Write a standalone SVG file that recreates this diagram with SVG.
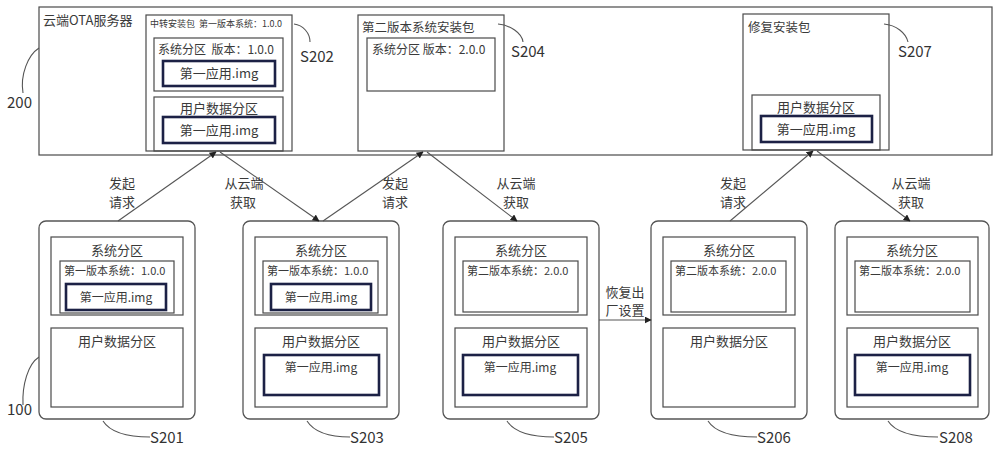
<svg xmlns="http://www.w3.org/2000/svg" width="1000" height="449" viewBox="0 0 1000 449">
<style>
text{font-family:"Noto Sans CJK SC","Noto Sans",sans-serif;fill:#3a3a3a}
.box{fill:none;stroke:#4a4a4a;stroke-width:1.2}
.dev{fill:#fff;stroke:#555;stroke-width:1.3}
.img{fill:none;stroke:#1c2145;stroke-width:2.6}
.t13{font-size:13px}
.t12{font-size:12px}
.t11{font-size:11px}
.c{text-anchor:middle}
.pre{white-space:pre}
.lbl{font-size:15px;fill:#333}
.lead{fill:none;stroke:#555;stroke-width:1.1}
.conn{fill:none;stroke:#555;stroke-width:1.1}
</style>
<defs>
<marker id="ah" viewBox="0 0 10 10" refX="9" refY="5" markerWidth="7" markerHeight="7" orient="auto-start-reverse" markerUnits="userSpaceOnUse">
<path d="M0,0 L10,5 L0,10 z" fill="#222"/>
</marker>
</defs>
<rect width="1000" height="449" fill="#fff"/>

<g id="server">
<rect class="box" x="39" y="7" width="953" height="148"/>
<text class="t13" x="43" y="25">云端OTA服务器</text>
</g>

<g id="S202">
<rect class="box" x="146" y="15" width="146" height="136"/>
<text class="pre" xml:space="preserve" x="150" y="27" style="font-size:9px">中转安装包  第一版本系统：1.0.0</text>
<rect class="box" x="154" y="38" width="129" height="53"/>
<text class="t12 pre" xml:space="preserve" x="158" y="54">系统分区  版本：1.0.0</text>
<rect class="img" x="163" y="61" width="112" height="25"/>
<text class="t13 c" x="219" y="78">第一应用.img</text>
<rect class="box" x="154" y="97" width="129" height="54"/>
<text class="t13 c" x="219" y="113">用户数据分区</text>
<rect class="img" x="163" y="117" width="112" height="26"/>
<text class="t13 c" x="219" y="135">第一应用.img</text>
</g>

<g id="S204">
<rect class="box" x="358" y="15" width="146" height="136"/>
<text x="362" y="32" style="font-size:12.5px">第二版本系统安装包</text>
<rect class="box" x="367" y="38" width="128" height="53"/>
<text class="t12" x="372" y="54">系统分区 版本：2.0.0</text>
</g>

<g id="S207">
<rect class="box" x="743" y="14" width="146" height="136"/>
<text x="748" y="32" style="font-size:12.5px">修复安装包</text>
<rect class="box" x="752" y="95" width="128" height="55"/>
<text class="t13 c" x="816" y="112">用户数据分区</text>
<rect class="img" x="761" y="116" width="111" height="26"/>
<text class="t13 c" x="816" y="134">第一应用.img</text>
</g>

<g id="refs">
<path class="lead" d="M39,48 C28,55 20,75 23,93"/>
<text class="lbl" x="7" y="108">200</text>
<path class="lead" d="M294,24 C303,25 310,33 310,42"/>
<text class="lbl" x="300" y="62">S202</text>
<path class="lead" d="M498,24 C510,25 522,33 523,42"/>
<text class="lbl" x="511" y="57">S204</text>
<path class="lead" d="M884,24 C896,25 906,33 908,42"/>
<text class="lbl" x="898" y="57">S207</text>
<path class="lead" d="M39,357 C28,364 22,385 23,405"/>
<text class="lbl" x="7" y="415">100</text>
</g>

<g id="S201">
<rect class="dev" x="39" y="221" width="156" height="198" rx="7"/>
<rect class="box" x="51" y="237" width="132" height="78"/>
<text class="t13 c" x="117" y="255">系统分区</text>
<rect class="box" x="60" y="261" width="114" height="52"/>
<text class="t11" x="64" y="275">第一版本系统：1.0.0</text>
<rect class="img" x="66" y="284" width="100" height="26"/>
<text class="t12 c" x="116" y="302">第一应用.img</text>
<rect class="box" x="51" y="328" width="132" height="79"/>
<text class="t13 c" x="117" y="346">用户数据分区</text>
<path class="lead" d="M103,421 C110,432 125,437 150,437"/>
<text class="lbl" x="150" y="443">S201</text>
</g>

<g id="S203">
<rect class="dev" x="243" y="221" width="156" height="198" rx="7"/>
<rect class="box" x="255" y="237" width="132" height="78"/>
<text class="t13 c" x="321" y="255">系统分区</text>
<rect class="box" x="263" y="261" width="115" height="52"/>
<text class="t11" x="267" y="275">第一版本系统：1.0.0</text>
<rect class="img" x="271" y="284" width="100" height="26"/>
<text class="t12 c" x="321" y="302">第一应用.img</text>
<rect class="box" x="255" y="328" width="132" height="79"/>
<text class="t13 c" x="321" y="346">用户数据分区</text>
<rect class="img" x="264" y="355" width="115" height="40"/>
<text class="t12 c" x="321" y="372">第一应用.img</text>
<path class="lead" d="M307,421 C314,432 328,437 350,437"/>
<text class="lbl" x="350" y="443">S203</text>
</g>

<g id="S205">
<rect class="dev" x="443" y="221" width="156" height="198" rx="7"/>
<rect class="box" x="455" y="237" width="132" height="78"/>
<text class="t13 c" x="521" y="255">系统分区</text>
<rect class="box" x="463" y="261" width="115" height="51"/>
<text class="t11" x="467" y="275">第二版本系统：2.0.0</text>
<rect class="box" x="455" y="328" width="132" height="79"/>
<text class="t13 c" x="521" y="346">用户数据分区</text>
<rect class="img" x="463" y="355" width="115" height="40"/>
<text class="t12 c" x="520" y="372">第一应用.img</text>
<path class="lead" d="M507,421 C514,432 530,437 554,437"/>
<text class="lbl" x="554" y="443">S205</text>
</g>

<g id="S206">
<rect class="dev" x="651" y="221" width="156" height="198" rx="7"/>
<rect class="box" x="663" y="237" width="132" height="78"/>
<text class="t13 c" x="729" y="255">系统分区</text>
<rect class="box" x="671" y="261" width="115" height="51"/>
<text class="t11" x="675" y="275">第二版本系统：2.0.0</text>
<rect class="box" x="663" y="328" width="132" height="79"/>
<text class="t13 c" x="729" y="346">用户数据分区</text>
<path class="lead" d="M708,421 C715,432 733,437 757,437"/>
<text class="lbl" x="757" y="443">S206</text>
</g>

<g id="S208">
<rect class="dev" x="835" y="221" width="154" height="198" rx="7"/>
<rect class="box" x="847" y="237" width="131" height="78"/>
<text class="t13 c" x="912" y="255">系统分区</text>
<rect class="box" x="855" y="261" width="115" height="51"/>
<text class="t11" x="859" y="275">第二版本系统：2.0.0</text>
<rect class="box" x="847" y="328" width="131" height="79"/>
<text class="t13 c" x="912" y="346">用户数据分区</text>
<rect class="img" x="855" y="355" width="115" height="40"/>
<text class="t12 c" x="912" y="372">第一应用.img</text>
<path class="lead" d="M888,421 C895,432 913,437 938,437"/>
<text class="lbl" x="939" y="443">S208</text>
</g>

<g id="connectors">
<line class="conn" x1="118" y1="221" x2="216" y2="152" marker-end="url(#ah)"/>
<line class="conn" x1="220" y1="152" x2="319" y2="221" marker-end="url(#ah)"/>
<line class="conn" x1="323" y1="221" x2="423" y2="152" marker-end="url(#ah)"/>
<line class="conn" x1="427" y1="152" x2="517" y2="221" marker-end="url(#ah)"/>
<line class="conn" x1="730" y1="221" x2="813" y2="151" marker-end="url(#ah)"/>
<line class="conn" x1="817" y1="151" x2="910" y2="221" marker-end="url(#ah)"/>
<line class="conn" x1="599" y1="320" x2="651" y2="320" marker-end="url(#ah)"/>
<text class="t13 c" x="122" y="188">发起</text>
<text class="t13 c" x="122" y="207">请求</text>
<text class="t13 c" x="244" y="188">从云端</text>
<text class="t13 c" x="243" y="207">获取</text>
<text class="t13 c" x="395" y="188">发起</text>
<text class="t13 c" x="395" y="207">请求</text>
<text class="t13 c" x="516" y="188">从云端</text>
<text class="t13 c" x="516" y="207">获取</text>
<text class="t13 c" x="733" y="188">发起</text>
<text class="t13 c" x="733" y="207">请求</text>
<text class="t13 c" x="911" y="188">从云端</text>
<text class="t13 c" x="911" y="207">获取</text>
<text class="t13 c" x="625" y="297">恢复出</text>
<text class="t13 c" x="625" y="315">厂设置</text>
</g>
</svg>
